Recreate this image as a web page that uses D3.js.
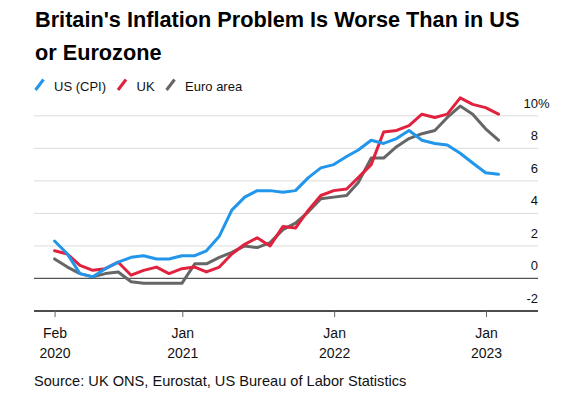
<!DOCTYPE html>
<html>
<head>
<meta charset="utf-8">
<script src="https://cdn.jsdelivr.net/npm/d3@7"></script>
<style>
  body { margin: 0; background: #fff; }
  svg text { font-family: "Liberation Sans", Arial, sans-serif; }
  .title { font-weight: bold; fill: #000; }
  .grid line { stroke: #dcdcdc; stroke-width: 1; }
  .line { fill: none; stroke-width: 3; stroke-linejoin: round; stroke-linecap: round; }
</style>
</head>
<body>
<svg class="chart"></svg>
<script>
/* Britain vs US vs Euro area inflation, monthly y/y % */

// months of data, Feb 2020 .. Jan 2023
var months = ["2020-02","2020-03","2020-04","2020-05","2020-06","2020-07","2020-08","2020-09","2020-10","2020-11","2020-12",
	"2021-01","2021-02","2021-03","2021-04","2021-05","2021-06","2021-07","2021-08","2021-09","2021-10","2021-11","2021-12",
	"2022-01","2022-02","2022-03","2022-04","2022-05","2022-06","2022-07","2022-08","2022-09","2022-10","2022-11","2022-12",
	"2023-01"];

var usValues = [2.3,1.5,0.3,0.1,0.6,1.0,1.3,1.4,1.2,1.2,1.4,
	1.4,1.7,2.6,4.2,5.0,5.4,5.4,5.3,5.4,6.2,6.8,7.0,
	7.5,7.9,8.5,8.3,8.6,9.1,8.5,8.3,8.2,7.7,7.1,6.5,
	6.4];

var ukValues = [1.7,1.5,0.8,0.5,0.6,1.0,0.2,0.5,0.7,0.3,0.6,
	0.7,0.4,0.7,1.5,2.1,2.5,2.0,3.2,3.1,4.2,5.1,5.4,
	5.5,6.2,7.0,9.0,9.1,9.4,10.1,9.9,10.1,11.1,10.7,10.5,
	10.1];

var euroValues = [1.2,0.7,0.3,0.1,0.3,0.4,-0.2,-0.3,-0.3,-0.3,-0.3,
	0.9,0.9,1.3,1.6,2.0,1.9,2.2,3.0,3.4,4.1,4.9,5.0,
	5.1,5.9,7.4,7.4,8.1,8.6,8.9,9.1,9.9,10.6,10.1,9.2,
	8.5];

var seriesNames = ["US (CPI)", "UK", "Euro area"];
var seriesColors = ["#2196ea", "#e0223e", "#666666"];

var yTicks = [-2, 0, 2, 4, 6, 8, 10];

// first tick sits on the first data point, the rest on Jan 1
var xTickDates = ["2020-02-29", "2021-01-01", "2022-01-01", "2023-01-01"];
var xTickMonths = ["Feb", "Jan", "Jan", "Jan"];
var xTickYears = ["2020", "2021", "2022", "2023"];

var titleLines = ["Britain's Inflation Problem Is Worse Than in US", "or Eurozone"];
var sourceText = "Source: UK ONS, Eurostat, US Bureau of Labor Statistics";


function drawChart() {
	var width = 568, height = 394;
	var plot = { left: 34, right: 538, top: 115, bottom: 311 };

	var parseMonth = d3.timeParse("%Y-%m");
	var parseDay = d3.timeParse("%Y-%m-%d");
	// values are plotted at month end
	function monthEnd(s) {
		var d = parseMonth(s);
		return d3.timeDay.offset(d3.timeMonth.offset(d, 1), -1);
	}

	var allValues = [usValues, ukValues, euroValues];
	var series = seriesNames.map(function(name, i) {
		return {
			name: name,
			color: seriesColors[i],
			values: months.map(function(m, j) { return { date: monthEnd(m), value: allValues[i][j] }; })
		};
	});

	var x = d3.scaleTime()
		.domain([parseDay("2021-01-01"), parseDay("2023-01-01")])
		.range([182.3, 486]);

	var y = d3.scaleLinear()
		.domain([-2, 10])
		.range([plot.bottom, 115.8]);

	var svg = d3.select(".chart")
		.attr("width", width)
		.attr("height", height);

	// Title
	svg.append("g").selectAll("text")
		.data(titleLines)
	  .enter().append("text")
		.attr("class", "title")
		.attr("x", 35)
		.attr("y", function(d, i) { return 26.7 + i * 33.3; })
		.style("font-size", "21.7px")
		.text(function(d) { return d; });

	// Legend
	var legend = svg.append("g").attr("class", "legend");
	var lx = 35.5;
	series.forEach(function(s) {
		legend.append("line")
			.attr("x1", lx).attr("y1", 90)
			.attr("x2", lx + 8).attr("y2", 79.5)
			.attr("stroke", s.color)
			.attr("stroke-width", 3);
		var t = legend.append("text")
			.attr("x", lx + 18.5)
			.attr("y", 90.5)
			.style("font-size", "13px")
			.attr("fill", "#111")
			.text(s.name);
		lx += 18.5 + t.node().getComputedTextLength() + 12;
	});

	// Gridlines
	var grid = svg.append("g").attr("class", "grid");
	grid.selectAll("line")
		.data(yTicks.filter(function(d) { return d > 0; }))
	  .enter().append("line")
		.attr("x1", plot.left).attr("x2", plot.right)
		.attr("y1", function(d) { return y(d); })
		.attr("y2", function(d) { return y(d); });

	// Zero line
	svg.append("line")
		.attr("x1", plot.left).attr("x2", plot.right)
		.attr("y1", y(0)).attr("y2", y(0))
		.attr("stroke", "#555")
		.attr("stroke-width", 1.3);

	// y labels, above the gridlines
	var ylab = svg.append("g").attr("class", "ylabels");
	ylab.selectAll("text")
		.data(yTicks)
	  .enter().append("text")
		.attr("x", plot.right)
		.attr("y", function(d) { return y(d) - 8; })
		.attr("text-anchor", "end")
		.style("font-size", "13px")
		.attr("fill", "#111")
		.text(function(d) { return d; });
	ylab.append("text")
		.attr("x", plot.right)
		.attr("y", y(10) - 8)
		.style("font-size", "13px")
		.attr("fill", "#111")
		.text("%");

	// Lines
	var valueline = d3.line()
		.x(function(d) { return x(d.date); })
		.y(function(d) { return y(d.value); });

	svg.append("g").selectAll("path")
		.data(series.slice().reverse())
	  .enter().append("path")
		.attr("class", "line")
		.attr("stroke", function(d) { return d.color; })
		.attr("d", function(d) { return valueline(d.values); });

	// x axis
	var tickDates = xTickDates.map(parseDay);
	var xAxis = d3.axisBottom(x)
		.tickValues(tickDates)
		.tickSize(6)
		.tickFormat("");

	var gx = svg.append("g")
		.attr("class", "x axis")
		.attr("transform", "translate(0," + plot.bottom + ")")
		.call(xAxis);
	gx.select(".domain").remove();
	gx.selectAll(".tick line").attr("stroke", "#666");
	gx.insert("line", ":first-child")
		.attr("x1", plot.left).attr("x2", plot.right)
		.attr("stroke", "#111")
		.attr("stroke-width", 1.3);

	gx.selectAll(".tick").each(function(d, i) {
		var tk = d3.select(this);
		tk.append("text")
			.attr("y", 26.7)
			.attr("fill", "#111")
			.attr("text-anchor", "middle")
			.style("font-size", "14px")
			.text(xTickMonths[i]);
		tk.append("text")
			.attr("y", 47.3)
			.attr("fill", "#111")
			.attr("text-anchor", "middle")
			.style("font-size", "14px")
			.text(xTickYears[i]);
	});

	// Source
	svg.append("text")
		.attr("x", 34)
		.attr("y", 386)
		.style("font-size", "14.6px")
		.attr("fill", "#111")
		.text(sourceText);
}

drawChart();
</script>
</body>
</html>
